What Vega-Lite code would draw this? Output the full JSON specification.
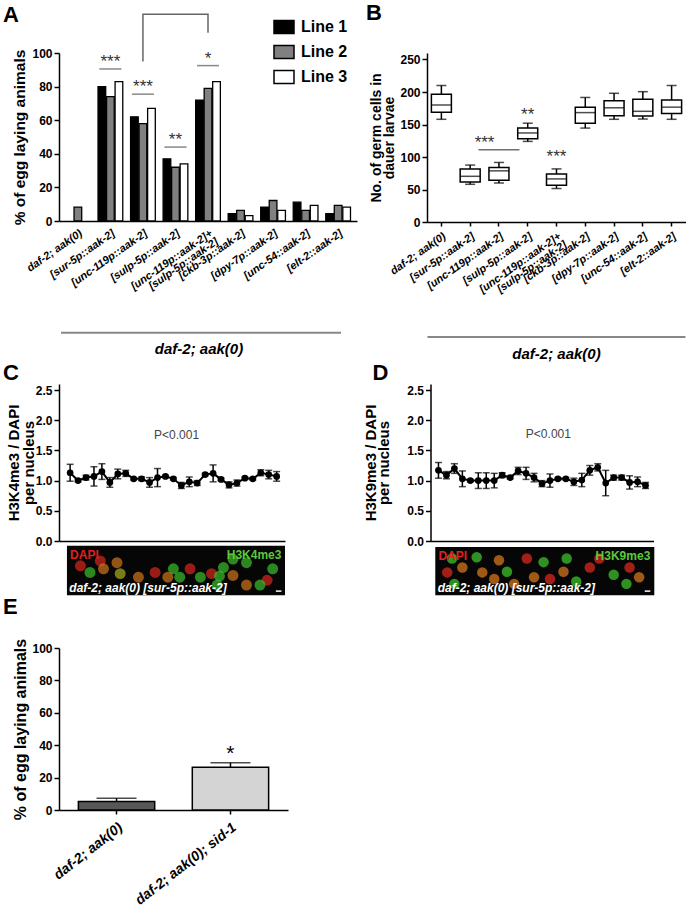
{
  "$schema": "https://vega.github.io/schema/vega-lite/v6.json",
  "background": "white",
  "padding": {"left": 3, "top": 2, "right": 0, "bottom": 0},
  "config": {
    "font": "Liberation Sans",
    "view": {"stroke": null},
    "axis": {"grid": false, "domainColor": "#000000", "domainWidth": 1.5, "tickColor": "#000000", "tickWidth": 1.5, "labelColor": "#000000", "titleColor": "#000000", "labelFontWeight": "bold", "titleFontWeight": "bold", "labelFont": "Liberation Sans", "titleFont": "Liberation Sans", "labelOverlap": false},
    "title": {"fontSize": 22, "fontWeight": "bold", "anchor": "start", "frame": "group", "color": "#000000", "font": "Liberation Sans"},
    "legend": {"labelFont": "Liberation Sans"}
  },
  "resolve": {"scale": {"fill": "independent", "color": "independent"}, "legend": {"fill": "independent", "color": "independent"}},
  "datasets": {
    "eggA": [
      {"strain": "daf-2; aak(0)", "line": "Line 2", "pct": 8.3},
      {"strain": "[sur-5p::aak-2]", "line": "Line 1", "pct": 80},
      {"strain": "[sur-5p::aak-2]", "line": "Line 2", "pct": 74},
      {"strain": "[sur-5p::aak-2]", "line": "Line 3", "pct": 83},
      {"strain": "[unc-119p::aak-2]", "line": "Line 1", "pct": 62},
      {"strain": "[unc-119p::aak-2]", "line": "Line 2", "pct": 58},
      {"strain": "[unc-119p::aak-2]", "line": "Line 3", "pct": 67},
      {"strain": "[sulp-5p::aak-2]", "line": "Line 1", "pct": 37},
      {"strain": "[sulp-5p::aak-2]", "line": "Line 2", "pct": 32},
      {"strain": "[sulp-5p::aak-2]", "line": "Line 3", "pct": 34},
      {"strain": "[unc-119p::aak-2]+ [sulp-5p::aak-2]", "line": "Line 1", "pct": 72},
      {"strain": "[unc-119p::aak-2]+ [sulp-5p::aak-2]", "line": "Line 2", "pct": 79},
      {"strain": "[unc-119p::aak-2]+ [sulp-5p::aak-2]", "line": "Line 3", "pct": 83},
      {"strain": "[ckb-3p::aak-2]", "line": "Line 1", "pct": 4.4},
      {"strain": "[ckb-3p::aak-2]", "line": "Line 2", "pct": 6.3},
      {"strain": "[ckb-3p::aak-2]", "line": "Line 3", "pct": 3.2},
      {"strain": "[dpy-7p::aak-2]", "line": "Line 1", "pct": 8.3},
      {"strain": "[dpy-7p::aak-2]", "line": "Line 2", "pct": 12.2},
      {"strain": "[dpy-7p::aak-2]", "line": "Line 3", "pct": 6.3},
      {"strain": "[unc-54::aak-2]", "line": "Line 1", "pct": 11.2},
      {"strain": "[unc-54::aak-2]", "line": "Line 2", "pct": 6.3},
      {"strain": "[unc-54::aak-2]", "line": "Line 3", "pct": 9.3},
      {"strain": "[elt-2::aak-2]", "line": "Line 1", "pct": 4.4},
      {"strain": "[elt-2::aak-2]", "line": "Line 2", "pct": 9.3},
      {"strain": "[elt-2::aak-2]", "line": "Line 3", "pct": 8.3}
    ],
    "sigA": [
      {"strain": "[sur-5p::aak-2]", "label": "***", "level": 90.5},
      {"strain": "[unc-119p::aak-2]", "label": "***", "level": 75.5},
      {"strain": "[sulp-5p::aak-2]", "label": "**", "level": 44},
      {"strain": "[unc-119p::aak-2]+ [sulp-5p::aak-2]", "label": "*", "level": 92.5}
    ],
    "bracketA": [
      {"strain": "[unc-119p::aak-2]", "level": 95, "o": 1},
      {"strain": "[unc-119p::aak-2]", "level": 123, "o": 2},
      {"strain": "[unc-119p::aak-2]+ [sulp-5p::aak-2]", "level": 123, "o": 3},
      {"strain": "[unc-119p::aak-2]+ [sulp-5p::aak-2]", "level": 112, "o": 4}
    ],
    "germB": [
      {"strain": "daf-2; aak(0)", "lo": 158, "q1": 169, "med": 180, "q3": 196.5, "hi": 210},
      {"strain": "[sur-5p::aak-2]", "lo": 58, "q1": 61.4, "med": 70.3, "q3": 81.7, "hi": 87.6},
      {"strain": "[unc-119p::aak-2]", "lo": 60, "q1": 64.4, "med": 78.7, "q3": 84, "hi": 91.6},
      {"strain": "[sulp-5p::aak-2]", "lo": 124, "q1": 128, "med": 137, "q3": 144.5, "hi": 152},
      {"strain": "[unc-119p::aak-2]+ [sulp-5p::aak-2]", "lo": 51.5, "q1": 56.4, "med": 66.3, "q3": 73.8, "hi": 81.7},
      {"strain": "[ckb-3p::aak-2]", "lo": 144.5, "q1": 152, "med": 168.3, "q3": 176.7, "hi": 191.6},
      {"strain": "[dpy-7p::aak-2]", "lo": 158, "q1": 163.4, "med": 175.7, "q3": 186.6, "hi": 198},
      {"strain": "[unc-54::aak-2]", "lo": 158.4, "q1": 163, "med": 170.3, "q3": 189, "hi": 200.5},
      {"strain": "[elt-2::aak-2]", "lo": 158, "q1": 166.8, "med": 176.7, "q3": 187.6, "hi": 210}
    ],
    "k4": [
      {"i": 1, "m": 1.13, "e": 0.14}, {"i": 2, "m": 1.0, "e": 0.02}, {"i": 3, "m": 1.05, "e": 0.04},
      {"i": 4, "m": 1.07, "e": 0.16}, {"i": 5, "m": 1.15, "e": 0.13}, {"i": 6, "m": 0.97, "e": 0.08},
      {"i": 7, "m": 1.11, "e": 0.08}, {"i": 8, "m": 1.12, "e": 0.05}, {"i": 9, "m": 1.03, "e": 0.02},
      {"i": 10, "m": 1.03, "e": 0.03}, {"i": 11, "m": 0.97, "e": 0.08}, {"i": 12, "m": 1.05, "e": 0.15},
      {"i": 13, "m": 1.07, "e": 0.02}, {"i": 14, "m": 1.03, "e": 0.02}, {"i": 15, "m": 0.92, "e": 0.05},
      {"i": 16, "m": 0.98, "e": 0.08}, {"i": 17, "m": 0.96, "e": 0.04}, {"i": 18, "m": 1.1, "e": 0.02},
      {"i": 19, "m": 1.12, "e": 0.14}, {"i": 20, "m": 1.02, "e": 0.02}, {"i": 21, "m": 0.93, "e": 0.05},
      {"i": 22, "m": 0.96, "e": 0.05}, {"i": 23, "m": 1.04, "e": 0.02}, {"i": 24, "m": 1.03, "e": 0.02},
      {"i": 25, "m": 1.13, "e": 0.05}, {"i": 26, "m": 1.1, "e": 0.07}, {"i": 27, "m": 1.07, "e": 0.08}
    ],
    "k9": [
      {"i": 1, "m": 1.17, "e": 0.13}, {"i": 2, "m": 1.09, "e": 0.06}, {"i": 3, "m": 1.2, "e": 0.08},
      {"i": 4, "m": 1.03, "e": 0.13}, {"i": 5, "m": 1.0, "e": 0.02}, {"i": 6, "m": 1.0, "e": 0.13},
      {"i": 7, "m": 1.0, "e": 0.13}, {"i": 8, "m": 1.0, "e": 0.12}, {"i": 9, "m": 1.09, "e": 0.04},
      {"i": 10, "m": 1.05, "e": 0.02}, {"i": 11, "m": 1.16, "e": 0.06}, {"i": 12, "m": 1.12, "e": 0.1},
      {"i": 13, "m": 1.05, "e": 0.07}, {"i": 14, "m": 0.95, "e": 0.05}, {"i": 15, "m": 1.0, "e": 0.11},
      {"i": 16, "m": 1.03, "e": 0.02}, {"i": 17, "m": 1.03, "e": 0.02}, {"i": 18, "m": 0.98, "e": 0.06},
      {"i": 19, "m": 1.01, "e": 0.11}, {"i": 20, "m": 1.17, "e": 0.08}, {"i": 21, "m": 1.22, "e": 0.06},
      {"i": 22, "m": 0.96, "e": 0.21}, {"i": 23, "m": 1.05, "e": 0.04}, {"i": 24, "m": 1.05, "e": 0.04},
      {"i": 25, "m": 0.97, "e": 0.11}, {"i": 26, "m": 0.98, "e": 0.08}, {"i": 27, "m": 0.92, "e": 0.05}
    ],
    "blobC": [
      {"x": 4.8, "y": -0.33, "c": "r"}, {"x": 5.2, "y": -0.46, "c": "o"}, {"x": 6.9, "y": -0.36, "c": "o"},
      {"x": 7.3, "y": -0.54, "c": "y"}, {"x": 3.5, "y": -0.52, "c": "g"}, {"x": 2.3, "y": -0.41, "c": "r"},
      {"x": 9.6, "y": -0.6, "c": "o"}, {"x": 11.7, "y": -0.52, "c": "r"}, {"x": 14, "y": -0.46, "c": "g"},
      {"x": 13.3, "y": -0.6, "c": "o"}, {"x": 14.8, "y": -0.6, "c": "g"}, {"x": 16.1, "y": -0.46, "c": "r"},
      {"x": 17.4, "y": -0.6, "c": "g"}, {"x": 20.3, "y": -0.44, "c": "g"}, {"x": 23.2, "y": -0.36, "c": "g"},
      {"x": 21.5, "y": -0.57, "c": "o"}, {"x": 25.8, "y": -0.65, "c": "r"}, {"x": 24.9, "y": -0.73, "c": "g"},
      {"x": 19.5, "y": -0.73, "c": "g"}, {"x": 23.2, "y": -0.73, "c": "o"}, {"x": 18.8, "y": -0.54, "c": "r"},
      {"x": 26.5, "y": -0.46, "c": "g"}, {"x": 21.5, "y": -0.3, "c": "g"}, {"x": 19.8, "y": -0.58, "c": "g"}
    ],
    "blobD": [
      {"x": 2.7, "y": -0.29, "c": "g"}, {"x": 4.0, "y": -0.44, "c": "o"}, {"x": 2.1, "y": -0.52, "c": "r"},
      {"x": 5.8, "y": -0.27, "c": "g"}, {"x": 6.5, "y": -0.52, "c": "o"}, {"x": 8.6, "y": -0.32, "c": "o"},
      {"x": 9.6, "y": -0.51, "c": "g"}, {"x": 8.0, "y": -0.63, "c": "o"}, {"x": 12.1, "y": -0.29, "c": "r"},
      {"x": 14.2, "y": -0.35, "c": "g"}, {"x": 13.0, "y": -0.6, "c": "o"}, {"x": 15.0, "y": -0.63, "c": "r"},
      {"x": 17.1, "y": -0.29, "c": "g"}, {"x": 16.7, "y": -0.51, "c": "o"}, {"x": 18.3, "y": -0.67, "c": "g"},
      {"x": 20.0, "y": -0.44, "c": "r"}, {"x": 21.2, "y": -0.29, "c": "r"}, {"x": 23.0, "y": -0.56, "c": "g"},
      {"x": 25.0, "y": -0.44, "c": "r"}, {"x": 26.2, "y": -0.6, "c": "o"}, {"x": 24.6, "y": -0.71, "c": "g"},
      {"x": 3.0, "y": -0.71, "c": "g"}, {"x": 10.5, "y": -0.71, "c": "o"}
    ],
    "eggE": [
      {"strain": "daf-2; aak(0)", "v": 5.2, "hi": 7.2},
      {"strain": "daf-2; aak(0); sid-1", "v": 26.4, "hi": 29.2}
    ]
  },
  "spacing": 0,
  "vconcat": [
    {
      "spacing": 9,
      "hconcat": [
        {
          "title": {"text": "A", "offset": -16, "dx": -56},
          "width": 298,
          "height": 168,
          "layer": [
            {
              "data": {"name": "eggA"},
              "mark": {"type": "bar", "stroke": "#000000", "strokeWidth": 1.3},
              "encoding": {
                "x": {"field": "strain", "type": "nominal",
                  "scale": {"domain": ["daf-2; aak(0)", "[sur-5p::aak-2]", "[unc-119p::aak-2]", "[sulp-5p::aak-2]", "[unc-119p::aak-2]+ [sulp-5p::aak-2]", "[ckb-3p::aak-2]", "[dpy-7p::aak-2]", "[unc-54::aak-2]", "[elt-2::aak-2]"], "paddingInner": 0.24, "paddingOuter": 0.2},
                  "axis": {"title": null, "ticks": false, "labelAngle": -35, "labelAlign": "right", "labelBaseline": "top", "labelFontSize": 11, "labelFontStyle": "italic", "labelFontWeight": "bold", "labelPadding": 6, "labelLimit": 260, "labelLineHeight": 10, "labelExpr": "datum.label == '[unc-119p::aak-2]+ [sulp-5p::aak-2]' ? ['[unc-119p::aak-2]+', '[sulp-5p::aak-2]\u00a0\u00a0\u00a0\u00a0\u00a0\u00a0\u00a0\u00a0'] : datum.label"}},
                "xOffset": {"field": "line", "type": "nominal", "scale": {"domain": ["Line 1", "Line 2", "Line 3"], "paddingInner": 0.1}},
                "y": {"field": "pct", "type": "quantitative", "scale": {"domain": [0, 100]},
                  "axis": {"title": "% of egg laying animals", "values": [0, 20, 40, 60, 80, 100], "labelFontSize": 12, "titleFontSize": 15.5, "tickSize": 5, "titlePadding": 4}},
                "fill": {"field": "line", "type": "nominal",
                  "scale": {"domain": ["Line 1", "Line 2", "Line 3"], "range": ["#000000", "#808080", "#ffffff"]},
                  "legend": {"orient": "none", "legendX": 214, "legendY": -37, "title": null, "symbolType": "M-1,-0.65H1V0.65H-1Z", "symbolSize": 400, "symbolStrokeColor": "#000000", "symbolStrokeWidth": 1.5, "symbolOpacity": 1, "labelFontSize": 16, "labelFontWeight": "bold", "labelColor": "#000000", "rowPadding": 4, "labelOffset": 6, "padding": 0}}
              }
            },
            {
              "data": {"name": "sigA"},
              "mark": {"type": "tick", "orient": "horizontal", "size": 22, "thickness": 1.5, "color": "#555555"},
              "encoding": {
                "x": {"field": "strain", "type": "nominal", "axis": {"title": null, "ticks": false, "labelAngle": -35, "labelAlign": "right", "labelBaseline": "top", "labelFontSize": 11, "labelFontStyle": "italic", "labelFontWeight": "bold", "labelPadding": 6, "labelLimit": 260, "labelLineHeight": 10, "labelExpr": "datum.label == '[unc-119p::aak-2]+ [sulp-5p::aak-2]' ? ['[unc-119p::aak-2]+', '[sulp-5p::aak-2]\u00a0\u00a0\u00a0\u00a0\u00a0\u00a0\u00a0\u00a0'] : datum.label"}},
                "y": {"field": "level", "type": "quantitative", "axis": {"title": "% of egg laying animals", "values": [0, 20, 40, 60, 80, 100], "labelFontSize": 12, "titleFontSize": 15.5, "tickSize": 5, "titlePadding": 4}}
              }
            },
            {
              "data": {"name": "sigA"},
              "mark": {"type": "text", "fontSize": 17, "dy": -2, "baseline": "alphabetic", "color": "#333333"},
              "encoding": {
                "x": {"field": "strain", "type": "nominal", "axis": {"title": null, "ticks": false, "labelAngle": -35, "labelAlign": "right", "labelBaseline": "top", "labelFontSize": 11, "labelFontStyle": "italic", "labelFontWeight": "bold", "labelPadding": 6, "labelLimit": 260, "labelLineHeight": 10, "labelExpr": "datum.label == '[unc-119p::aak-2]+ [sulp-5p::aak-2]' ? ['[unc-119p::aak-2]+', '[sulp-5p::aak-2]\u00a0\u00a0\u00a0\u00a0\u00a0\u00a0\u00a0\u00a0'] : datum.label"}},
                "y": {"field": "level", "type": "quantitative", "axis": {"title": "% of egg laying animals", "values": [0, 20, 40, 60, 80, 100], "labelFontSize": 12, "titleFontSize": 15.5, "tickSize": 5, "titlePadding": 4}},
                "text": {"field": "label"}
              }
            },
            {
              "data": {"name": "bracketA"},
              "mark": {"type": "line", "color": "#666666", "strokeWidth": 1.5},
              "encoding": {
                "x": {"field": "strain", "type": "nominal", "axis": {"title": null, "ticks": false, "labelAngle": -35, "labelAlign": "right", "labelBaseline": "top", "labelFontSize": 11, "labelFontStyle": "italic", "labelFontWeight": "bold", "labelPadding": 6, "labelLimit": 260, "labelLineHeight": 10, "labelExpr": "datum.label == '[unc-119p::aak-2]+ [sulp-5p::aak-2]' ? ['[unc-119p::aak-2]+', '[sulp-5p::aak-2]\u00a0\u00a0\u00a0\u00a0\u00a0\u00a0\u00a0\u00a0'] : datum.label"}},
                "y": {"field": "level", "type": "quantitative", "axis": {"title": "% of egg laying animals", "values": [0, 20, 40, 60, 80, 100], "labelFontSize": 12, "titleFontSize": 15.5, "tickSize": 5, "titlePadding": 4}},
                "order": {"field": "o", "type": "quantitative"}
              }
            },
            {
              "data": {"values": [{}]},
              "mark": {"type": "tick", "orient": "horizontal", "size": 280, "thickness": 2, "color": "#555555", "xOffset": -7},
              "encoding": {
                "x": {"datum": "[unc-119p::aak-2]+ [sulp-5p::aak-2]", "axis": {"title": null, "ticks": false, "labelAngle": -35, "labelAlign": "right", "labelBaseline": "top", "labelFontSize": 11, "labelFontStyle": "italic", "labelFontWeight": "bold", "labelPadding": 6, "labelLimit": 260, "labelLineHeight": 10, "labelExpr": "datum.label == '[unc-119p::aak-2]+ [sulp-5p::aak-2]' ? ['[unc-119p::aak-2]+', '[sulp-5p::aak-2]\u00a0\u00a0\u00a0\u00a0\u00a0\u00a0\u00a0\u00a0'] : datum.label"}},
                "y": {"datum": -66.5, "axis": {"title": "% of egg laying animals", "values": [0, 20, 40, 60, 80, 100], "labelFontSize": 12, "titleFontSize": 15.5, "tickSize": 5, "titlePadding": 4}}
              }
            },
            {
              "data": {"values": [{}]},
              "mark": {"type": "text", "fontSize": 15, "fontStyle": "italic", "fontWeight": "bold", "baseline": "middle", "color": "#000000", "xOffset": -9},
              "encoding": {
                "x": {"datum": "[unc-119p::aak-2]+ [sulp-5p::aak-2]", "axis": {"title": null, "ticks": false, "labelAngle": -35, "labelAlign": "right", "labelBaseline": "top", "labelFontSize": 11, "labelFontStyle": "italic", "labelFontWeight": "bold", "labelPadding": 6, "labelLimit": 260, "labelLineHeight": 10, "labelExpr": "datum.label == '[unc-119p::aak-2]+ [sulp-5p::aak-2]' ? ['[unc-119p::aak-2]+', '[sulp-5p::aak-2]\u00a0\u00a0\u00a0\u00a0\u00a0\u00a0\u00a0\u00a0'] : datum.label"}},
                "y": {"datum": -76.2, "axis": {"title": "% of egg laying animals", "values": [0, 20, 40, 60, 80, 100], "labelFontSize": 12, "titleFontSize": 15.5, "tickSize": 5, "titlePadding": 4}},
                "text": {"value": "daf-2; aak(0)"}
              }
            }
          ]
        },
        {
          "title": {"text": "B", "offset": 28, "dx": -61},
          "width": 259,
          "height": 169,
          "encoding": {
            "x": {"field": "strain", "type": "nominal",
              "scale": {"domain": ["daf-2; aak(0)", "[sur-5p::aak-2]", "[unc-119p::aak-2]", "[sulp-5p::aak-2]", "[unc-119p::aak-2]+ [sulp-5p::aak-2]", "[ckb-3p::aak-2]", "[dpy-7p::aak-2]", "[unc-54::aak-2]", "[elt-2::aak-2]"], "paddingInner": 0, "paddingOuter": 0},
              "axis": {"title": null, "ticks": true, "tickSize": 4, "labelAngle": -35, "labelAlign": "right", "labelBaseline": "top", "labelFontSize": 11, "labelFontStyle": "italic", "labelFontWeight": "bold", "labelPadding": 4, "labelLimit": 260, "labelLineHeight": 10, "labelExpr": "datum.label == '[unc-119p::aak-2]+ [sulp-5p::aak-2]' ? ['[unc-119p::aak-2]+', '[sulp-5p::aak-2]\u00a0\u00a0\u00a0\u00a0\u00a0\u00a0'] : datum.label"}}
          },
          "layer": [
            {
              "data": {"name": "germB"},
              "mark": {"type": "rule", "color": "#000000", "strokeWidth": 1.5},
              "encoding": {
                "y": {"field": "lo", "type": "quantitative", "scale": {"domain": [0, 250]},
                  "axis": {"title": ["No. of germ cells in", "dauer larvae"], "values": [0, 50, 100, 150, 200, 250], "labelFontSize": 12, "titleFontSize": 14, "titleLineHeight": 13, "tickSize": 5, "titlePadding": 3}},
                "y2": {"field": "hi"}
              }
            },
            {
              "data": {"name": "germB"},
              "mark": {"type": "bar", "size": 20, "fill": "#ffffff", "stroke": "#000000", "strokeWidth": 1.5},
              "encoding": {
                "y": {"field": "q1", "type": "quantitative", "axis": {"title": ["No. of germ cells in", "dauer larvae"], "values": [0, 50, 100, 150, 200, 250], "labelFontSize": 12, "titleFontSize": 14, "titleLineHeight": 13, "tickSize": 5, "titlePadding": 3}},
                "y2": {"field": "q3"}
              }
            },
            {
              "data": {"name": "germB"},
              "mark": {"type": "tick", "orient": "horizontal", "size": 20, "thickness": 1.5, "color": "#000000"},
              "encoding": {
                "y": {"field": "med", "type": "quantitative", "axis": {"title": ["No. of germ cells in", "dauer larvae"], "values": [0, 50, 100, 150, 200, 250], "labelFontSize": 12, "titleFontSize": 14, "titleLineHeight": 13, "tickSize": 5, "titlePadding": 3}}
              }
            },
            {
              "data": {"name": "germB"},
              "mark": {"type": "tick", "orient": "horizontal", "size": 10, "thickness": 1.5, "color": "#000000"},
              "encoding": {
                "y": {"field": "lo", "type": "quantitative", "axis": {"title": ["No. of germ cells in", "dauer larvae"], "values": [0, 50, 100, 150, 200, 250], "labelFontSize": 12, "titleFontSize": 14, "titleLineHeight": 13, "tickSize": 5, "titlePadding": 3}}
              }
            },
            {
              "data": {"name": "germB"},
              "mark": {"type": "tick", "orient": "horizontal", "size": 10, "thickness": 1.5, "color": "#000000"},
              "encoding": {
                "y": {"field": "hi", "type": "quantitative", "axis": {"title": ["No. of germ cells in", "dauer larvae"], "values": [0, 50, 100, 150, 200, 250], "labelFontSize": 12, "titleFontSize": 14, "titleLineHeight": 13, "tickSize": 5, "titlePadding": 3}}
              }
            },
            {
              "data": {"values": [{}]},
              "mark": {"type": "tick", "orient": "horizontal", "size": 41, "thickness": 1.5, "color": "#333333"},
              "encoding": {
                "x": {"datum": "[unc-119p::aak-2]", "bandPosition": 0, "axis": {"title": null, "ticks": true, "tickSize": 4, "labelAngle": -35, "labelAlign": "right", "labelBaseline": "top", "labelFontSize": 11, "labelFontStyle": "italic", "labelFontWeight": "bold", "labelPadding": 4, "labelLimit": 260, "labelLineHeight": 10, "labelExpr": "datum.label == '[unc-119p::aak-2]+ [sulp-5p::aak-2]' ? ['[unc-119p::aak-2]+', '[sulp-5p::aak-2]\u00a0\u00a0\u00a0\u00a0\u00a0\u00a0'] : datum.label"}},
                "y": {"datum": 111, "axis": {"title": ["No. of germ cells in", "dauer larvae"], "values": [0, 50, 100, 150, 200, 250], "labelFontSize": 12, "titleFontSize": 14, "titleLineHeight": 13, "tickSize": 5, "titlePadding": 3}}
              }
            },
            {
              "data": {"values": [{}]},
              "mark": {"type": "text", "fontSize": 17, "dy": -2, "baseline": "alphabetic", "color": "#333333"},
              "encoding": {
                "x": {"datum": "[unc-119p::aak-2]", "bandPosition": 0, "axis": {"title": null, "ticks": true, "tickSize": 4, "labelAngle": -35, "labelAlign": "right", "labelBaseline": "top", "labelFontSize": 11, "labelFontStyle": "italic", "labelFontWeight": "bold", "labelPadding": 4, "labelLimit": 260, "labelLineHeight": 10, "labelExpr": "datum.label == '[unc-119p::aak-2]+ [sulp-5p::aak-2]' ? ['[unc-119p::aak-2]+', '[sulp-5p::aak-2]\u00a0\u00a0\u00a0\u00a0\u00a0\u00a0'] : datum.label"}},
                "y": {"datum": 111, "axis": {"title": ["No. of germ cells in", "dauer larvae"], "values": [0, 50, 100, 150, 200, 250], "labelFontSize": 12, "titleFontSize": 14, "titleLineHeight": 13, "tickSize": 5, "titlePadding": 3}},
                "text": {"value": "***"}
              }
            },
            {
              "data": {"values": [{}]},
              "mark": {"type": "text", "fontSize": 17, "baseline": "alphabetic", "color": "#333333"},
              "encoding": {
                "x": {"datum": "[sulp-5p::aak-2]", "axis": {"title": null, "ticks": true, "tickSize": 4, "labelAngle": -35, "labelAlign": "right", "labelBaseline": "top", "labelFontSize": 11, "labelFontStyle": "italic", "labelFontWeight": "bold", "labelPadding": 4, "labelLimit": 260, "labelLineHeight": 10, "labelExpr": "datum.label == '[unc-119p::aak-2]+ [sulp-5p::aak-2]' ? ['[unc-119p::aak-2]+', '[sulp-5p::aak-2]\u00a0\u00a0\u00a0\u00a0\u00a0\u00a0'] : datum.label"}},
                "y": {"datum": 157, "axis": {"title": ["No. of germ cells in", "dauer larvae"], "values": [0, 50, 100, 150, 200, 250], "labelFontSize": 12, "titleFontSize": 14, "titleLineHeight": 13, "tickSize": 5, "titlePadding": 3}},
                "text": {"value": "**"}
              }
            },
            {
              "data": {"values": [{}]},
              "mark": {"type": "text", "fontSize": 17, "baseline": "alphabetic", "color": "#333333"},
              "encoding": {
                "x": {"datum": "[unc-119p::aak-2]+ [sulp-5p::aak-2]", "axis": {"title": null, "ticks": true, "tickSize": 4, "labelAngle": -35, "labelAlign": "right", "labelBaseline": "top", "labelFontSize": 11, "labelFontStyle": "italic", "labelFontWeight": "bold", "labelPadding": 4, "labelLimit": 260, "labelLineHeight": 10, "labelExpr": "datum.label == '[unc-119p::aak-2]+ [sulp-5p::aak-2]' ? ['[unc-119p::aak-2]+', '[sulp-5p::aak-2]\u00a0\u00a0\u00a0\u00a0\u00a0\u00a0'] : datum.label"}},
                "y": {"datum": 93, "axis": {"title": ["No. of germ cells in", "dauer larvae"], "values": [0, 50, 100, 150, 200, 250], "labelFontSize": 12, "titleFontSize": 14, "titleLineHeight": 13, "tickSize": 5, "titlePadding": 3}},
                "text": {"value": "***"}
              }
            },
            {
              "data": {"values": [{}]},
              "mark": {"type": "tick", "orient": "horizontal", "size": 258, "thickness": 2, "color": "#555555"},
              "encoding": {
                "x": {"datum": "[unc-119p::aak-2]+ [sulp-5p::aak-2]", "axis": {"title": null, "ticks": true, "tickSize": 4, "labelAngle": -35, "labelAlign": "right", "labelBaseline": "top", "labelFontSize": 11, "labelFontStyle": "italic", "labelFontWeight": "bold", "labelPadding": 4, "labelLimit": 260, "labelLineHeight": 10, "labelExpr": "datum.label == '[unc-119p::aak-2]+ [sulp-5p::aak-2]' ? ['[unc-119p::aak-2]+', '[sulp-5p::aak-2]\u00a0\u00a0\u00a0\u00a0\u00a0\u00a0'] : datum.label"}},
                "y": {"datum": -177, "axis": {"title": ["No. of germ cells in", "dauer larvae"], "values": [0, 50, 100, 150, 200, 250], "labelFontSize": 12, "titleFontSize": 14, "titleLineHeight": 13, "tickSize": 5, "titlePadding": 3}}
              }
            },
            {
              "data": {"values": [{}]},
              "mark": {"type": "text", "fontSize": 15, "fontStyle": "italic", "fontWeight": "bold", "baseline": "middle", "color": "#000000"},
              "encoding": {
                "x": {"datum": "[unc-119p::aak-2]+ [sulp-5p::aak-2]", "axis": {"title": null, "ticks": true, "tickSize": 4, "labelAngle": -35, "labelAlign": "right", "labelBaseline": "top", "labelFontSize": 11, "labelFontStyle": "italic", "labelFontWeight": "bold", "labelPadding": 4, "labelLimit": 260, "labelLineHeight": 10, "labelExpr": "datum.label == '[unc-119p::aak-2]+ [sulp-5p::aak-2]' ? ['[unc-119p::aak-2]+', '[sulp-5p::aak-2]\u00a0\u00a0\u00a0\u00a0\u00a0\u00a0'] : datum.label"}},
                "y": {"datum": -203, "axis": {"title": ["No. of germ cells in", "dauer larvae"], "values": [0, 50, 100, 150, 200, 250], "labelFontSize": 12, "titleFontSize": 14, "titleLineHeight": 13, "tickSize": 5, "titlePadding": 3}},
                "text": {"value": "daf-2; aak(0)"}
              }
            }
          ]
        }
      ]
    },
    {
      "spacing": 78.5,
      "hconcat": [
        {
          "title": {"text": "C", "offset": -1, "dx": -56},
          "width": 226,
          "height": 157,
          "layer": [
            {
              "data": {"name": "k4"},
              "mark": {"type": "line", "color": "#000000", "strokeWidth": 2},
              "encoding": {
                "x": {"field": "i", "type": "quantitative", "scale": {"domain": [-0.4, 28.05], "nice": false, "zero": false}, "axis": {"title": null, "ticks": false, "labels": false}},
                "y": {"field": "m", "type": "quantitative", "scale": {"domain": [0, 2.5]}, "axis": {"title": ["H3K4me3 / DAPI", "per nucleus"], "values": [0, 0.5, 1, 1.5, 2, 2.5], "format": ".1f", "labelFontSize": 12, "titleFontSize": 15, "titleLineHeight": 15, "tickSize": 5, "titlePadding": -1}}
              }
            },
            {
              "data": {"name": "k4"},
              "mark": {"type": "errorbar", "ticks": {"size": 7}, "thickness": 1.5, "color": "#000000"},
              "encoding": {
                "x": {"field": "i", "type": "quantitative", "axis": {"title": null, "ticks": false, "labels": false}},
                "y": {"field": "m", "type": "quantitative", "axis": {"title": ["H3K4me3 / DAPI", "per nucleus"], "values": [0, 0.5, 1, 1.5, 2, 2.5], "format": ".1f", "labelFontSize": 12, "titleFontSize": 15, "titleLineHeight": 15, "tickSize": 5, "titlePadding": -1}},
                "yError": {"field": "e"}
              }
            },
            {
              "data": {"name": "k4"},
              "mark": {"type": "circle", "size": 45, "color": "#000000", "opacity": 1},
              "encoding": {
                "x": {"field": "i", "type": "quantitative", "axis": {"title": null, "ticks": false, "labels": false}},
                "y": {"field": "m", "type": "quantitative", "axis": {"title": ["H3K4me3 / DAPI", "per nucleus"], "values": [0, 0.5, 1, 1.5, 2, 2.5], "format": ".1f", "labelFontSize": 12, "titleFontSize": 15, "titleLineHeight": 15, "tickSize": 5, "titlePadding": -1}}
              }
            },
            {
              "data": {"values": [{}]},
              "mark": {"type": "text", "fontSize": 12, "color": "#444444", "baseline": "middle"},
              "encoding": {
                "x": {"datum": 14.4, "axis": {"title": null, "ticks": false, "labels": false}},
                "y": {"datum": 1.76, "axis": {"title": ["H3K4me3 / DAPI", "per nucleus"], "values": [0, 0.5, 1, 1.5, 2, 2.5], "format": ".1f", "labelFontSize": 12, "titleFontSize": 15, "titleLineHeight": 15, "tickSize": 5, "titlePadding": -1}},
                "text": {"value": "P<0.001"}}
            },
            {
              "data": {"values": [{}]},
              "mark": {"type": "rect", "color": "#060606"},
              "encoding": {
                "x": {"datum": 0.6, "axis": {"title": null, "ticks": false, "labels": false}}, "x2": {"datum": 28.05},
                "y": {"datum": -0.08, "axis": {"title": ["H3K4me3 / DAPI", "per nucleus"], "values": [0, 0.5, 1, 1.5, 2, 2.5], "format": ".1f", "labelFontSize": 12, "titleFontSize": 15, "titleLineHeight": 15, "tickSize": 5, "titlePadding": -1}}, "y2": {"datum": -0.9}}
            },
            {
              "data": {"name": "blobC"},
              "mark": {"type": "circle", "size": 120, "opacity": 0.7},
              "encoding": {
                "x": {"field": "x", "type": "quantitative", "axis": {"title": null, "ticks": false, "labels": false}},
                "y": {"field": "y", "type": "quantitative", "axis": {"title": ["H3K4me3 / DAPI", "per nucleus"], "values": [0, 0.5, 1, 1.5, 2, 2.5], "format": ".1f", "labelFontSize": 12, "titleFontSize": 15, "titleLineHeight": 15, "tickSize": 5, "titlePadding": -1}},
                "color": {"field": "c", "type": "nominal", "scale": {"domain": ["r", "g", "o", "y"], "range": ["#d8281c", "#3cc02c", "#d2761c", "#a8b020"]}, "legend": null}
              }
            },
            {
              "data": {"values": [{}]},
              "mark": {"type": "text", "fontSize": 12, "fontWeight": "bold", "color": "#e0201c", "align": "left", "baseline": "alphabetic"},
              "encoding": {
                "x": {"datum": 1.0, "axis": {"title": null, "ticks": false, "labels": false}},
                "y": {"datum": -0.3, "axis": {"title": ["H3K4me3 / DAPI", "per nucleus"], "values": [0, 0.5, 1, 1.5, 2, 2.5], "format": ".1f", "labelFontSize": 12, "titleFontSize": 15, "titleLineHeight": 15, "tickSize": 5, "titlePadding": -1}},
                "text": {"value": "DAPI"}}
            },
            {
              "data": {"values": [{}]},
              "mark": {"type": "text", "fontSize": 12, "fontWeight": "bold", "color": "#5cc83c", "align": "right", "baseline": "alphabetic"},
              "encoding": {
                "x": {"datum": 27.6, "axis": {"title": null, "ticks": false, "labels": false}},
                "y": {"datum": -0.3, "axis": {"title": ["H3K4me3 / DAPI", "per nucleus"], "values": [0, 0.5, 1, 1.5, 2, 2.5], "format": ".1f", "labelFontSize": 12, "titleFontSize": 15, "titleLineHeight": 15, "tickSize": 5, "titlePadding": -1}},
                "text": {"value": "H3K4me3"}}
            },
            {
              "data": {"values": [{}]},
              "mark": {"type": "text", "fontSize": 12, "fontWeight": "bold", "fontStyle": "italic", "color": "#ffffff", "align": "left", "baseline": "alphabetic"},
              "encoding": {
                "x": {"datum": 0.9, "axis": {"title": null, "ticks": false, "labels": false}},
                "y": {"datum": -0.84, "axis": {"title": ["H3K4me3 / DAPI", "per nucleus"], "values": [0, 0.5, 1, 1.5, 2, 2.5], "format": ".1f", "labelFontSize": 12, "titleFontSize": 15, "titleLineHeight": 15, "tickSize": 5, "titlePadding": -1}},
                "text": {"value": "daf-2; aak(0) [sur-5p::aak-2]"}}
            },
            {
              "data": {"values": [{}]},
              "mark": {"type": "rule", "color": "#ffffff", "strokeWidth": 1.5},
              "encoding": {
                "x": {"datum": 26.9, "axis": {"title": null, "ticks": false, "labels": false}}, "x2": {"datum": 27.6},
                "y": {"datum": -0.83, "axis": {"title": ["H3K4me3 / DAPI", "per nucleus"], "values": [0, 0.5, 1, 1.5, 2, 2.5], "format": ".1f", "labelFontSize": 12, "titleFontSize": 15, "titleLineHeight": 15, "tickSize": 5, "titlePadding": -1}}}
            }
          ]
        },
        {
          "title": {"text": "D", "offset": -1, "dx": -58},
          "width": 223,
          "height": 157,
          "layer": [
            {
              "data": {"name": "k9"},
              "mark": {"type": "line", "color": "#000000", "strokeWidth": 2},
              "encoding": {
                "x": {"field": "i", "type": "quantitative", "scale": {"domain": [0, 28]}, "axis": {"title": null, "ticks": false, "labels": false}},
                "y": {"field": "m", "type": "quantitative", "scale": {"domain": [0, 2.5]}, "axis": {"title": ["H3K9me3 / DAPI", "per nucleus"], "values": [0, 0.5, 1, 1.5, 2, 2.5], "format": ".1f", "labelFontSize": 12, "titleFontSize": 15, "titleLineHeight": 13, "tickSize": 5, "titlePadding": 15}}
              }
            },
            {
              "data": {"name": "k9"},
              "mark": {"type": "errorbar", "ticks": {"size": 7}, "thickness": 1.5, "color": "#000000"},
              "encoding": {
                "x": {"field": "i", "type": "quantitative", "axis": {"title": null, "ticks": false, "labels": false}},
                "y": {"field": "m", "type": "quantitative", "axis": {"title": ["H3K9me3 / DAPI", "per nucleus"], "values": [0, 0.5, 1, 1.5, 2, 2.5], "format": ".1f", "labelFontSize": 12, "titleFontSize": 15, "titleLineHeight": 13, "tickSize": 5, "titlePadding": 15}},
                "yError": {"field": "e"}
              }
            },
            {
              "data": {"name": "k9"},
              "mark": {"type": "circle", "size": 45, "color": "#000000", "opacity": 1},
              "encoding": {
                "x": {"field": "i", "type": "quantitative", "axis": {"title": null, "ticks": false, "labels": false}},
                "y": {"field": "m", "type": "quantitative", "axis": {"title": ["H3K9me3 / DAPI", "per nucleus"], "values": [0, 0.5, 1, 1.5, 2, 2.5], "format": ".1f", "labelFontSize": 12, "titleFontSize": 15, "titleLineHeight": 13, "tickSize": 5, "titlePadding": 15}}
              }
            },
            {
              "data": {"values": [{}]},
              "mark": {"type": "text", "fontSize": 12, "color": "#444444", "baseline": "middle"},
              "encoding": {
                "x": {"datum": 14.8, "axis": {"title": null, "ticks": false, "labels": false}},
                "y": {"datum": 1.77, "axis": {"title": ["H3K9me3 / DAPI", "per nucleus"], "values": [0, 0.5, 1, 1.5, 2, 2.5], "format": ".1f", "labelFontSize": 12, "titleFontSize": 15, "titleLineHeight": 13, "tickSize": 5, "titlePadding": 15}},
                "text": {"value": "P<0.001"}}
            },
            {
              "data": {"values": [{}]},
              "mark": {"type": "rect", "color": "#060606"},
              "encoding": {
                "x": {"datum": 0.6, "axis": {"title": null, "ticks": false, "labels": false}}, "x2": {"datum": 28.1},
                "y": {"datum": -0.1, "axis": {"title": ["H3K9me3 / DAPI", "per nucleus"], "values": [0, 0.5, 1, 1.5, 2, 2.5], "format": ".1f", "labelFontSize": 12, "titleFontSize": 15, "titleLineHeight": 13, "tickSize": 5, "titlePadding": 15}}, "y2": {"datum": -0.9}}
            },
            {
              "data": {"name": "blobD"},
              "mark": {"type": "circle", "size": 110, "opacity": 0.75},
              "encoding": {
                "x": {"field": "x", "type": "quantitative", "axis": {"title": null, "ticks": false, "labels": false}},
                "y": {"field": "y", "type": "quantitative", "axis": {"title": ["H3K9me3 / DAPI", "per nucleus"], "values": [0, 0.5, 1, 1.5, 2, 2.5], "format": ".1f", "labelFontSize": 12, "titleFontSize": 15, "titleLineHeight": 13, "tickSize": 5, "titlePadding": 15}},
                "color": {"field": "c", "type": "nominal", "scale": {"domain": ["r", "g", "o", "y"], "range": ["#d8281c", "#3cc02c", "#d2761c", "#a8b020"]}, "legend": null}
              }
            },
            {
              "data": {"values": [{}]},
              "mark": {"type": "text", "fontSize": 12, "fontWeight": "bold", "color": "#e0201c", "align": "left", "baseline": "alphabetic"},
              "encoding": {
                "x": {"datum": 1.0, "axis": {"title": null, "ticks": false, "labels": false}},
                "y": {"datum": -0.32, "axis": {"title": ["H3K9me3 / DAPI", "per nucleus"], "values": [0, 0.5, 1, 1.5, 2, 2.5], "format": ".1f", "labelFontSize": 12, "titleFontSize": 15, "titleLineHeight": 13, "tickSize": 5, "titlePadding": 15}},
                "text": {"value": "DAPI"}}
            },
            {
              "data": {"values": [{}]},
              "mark": {"type": "text", "fontSize": 12, "fontWeight": "bold", "color": "#5cc83c", "align": "right", "baseline": "alphabetic"},
              "encoding": {
                "x": {"datum": 27.6, "axis": {"title": null, "ticks": false, "labels": false}},
                "y": {"datum": -0.32, "axis": {"title": ["H3K9me3 / DAPI", "per nucleus"], "values": [0, 0.5, 1, 1.5, 2, 2.5], "format": ".1f", "labelFontSize": 12, "titleFontSize": 15, "titleLineHeight": 13, "tickSize": 5, "titlePadding": 15}},
                "text": {"value": "H3K9me3"}}
            },
            {
              "data": {"values": [{}]},
              "mark": {"type": "text", "fontSize": 12, "fontWeight": "bold", "fontStyle": "italic", "color": "#ffffff", "align": "left", "baseline": "alphabetic"},
              "encoding": {
                "x": {"datum": 0.9, "axis": {"title": null, "ticks": false, "labels": false}},
                "y": {"datum": -0.84, "axis": {"title": ["H3K9me3 / DAPI", "per nucleus"], "values": [0, 0.5, 1, 1.5, 2, 2.5], "format": ".1f", "labelFontSize": 12, "titleFontSize": 15, "titleLineHeight": 13, "tickSize": 5, "titlePadding": 15}},
                "text": {"value": "daf-2; aak(0) [sur-5p::aak-2]"}}
            },
            {
              "data": {"values": [{}]},
              "mark": {"type": "rule", "color": "#ffffff", "strokeWidth": 1.5},
              "encoding": {
                "x": {"datum": 26.9, "axis": {"title": null, "ticks": false, "labels": false}}, "x2": {"datum": 27.6},
                "y": {"datum": -0.83, "axis": {"title": ["H3K9me3 / DAPI", "per nucleus"], "values": [0, 0.5, 1, 1.5, 2, 2.5], "format": ".1f", "labelFontSize": 12, "titleFontSize": 15, "titleLineHeight": 13, "tickSize": 5, "titlePadding": 15}}}
            }
          ]
        }
      ]
    },
    {
      "title": {"text": "E", "offset": 19, "dx": -56},
      "width": 229,
      "height": 162,
      "encoding": {
        "x": {"field": "strain", "type": "nominal", "scale": {"domain": ["daf-2; aak(0)", "daf-2; aak(0); sid-1"], "paddingInner": 0.33, "paddingOuter": 0.17},
          "axis": {"title": null, "ticks": true, "tickSize": 4, "labelAngle": -38, "labelAlign": "right", "labelBaseline": "top", "labelFontSize": 14, "labelFontStyle": "italic", "labelFontWeight": "bold", "labelPadding": 6, "labelLimit": 250}}
      },
      "layer": [
        {
          "data": {"name": "eggE"},
          "mark": {"type": "bar", "stroke": "#000000", "strokeWidth": 1.5},
          "encoding": {
            "y": {"field": "v", "type": "quantitative", "scale": {"domain": [0, 100]},
              "axis": {"title": "% of egg laying animals", "values": [0, 20, 40, 60, 80, 100], "labelFontSize": 12, "titleFontSize": 16, "tickSize": 5, "titlePadding": 3}},
            "fill": {"field": "strain", "type": "nominal", "scale": {"domain": ["daf-2; aak(0)", "daf-2; aak(0); sid-1"], "range": ["#575757", "#d4d4d4"]}, "legend": null}
          }
        },
        {
          "data": {"name": "eggE"},
          "mark": {"type": "rule", "color": "#000000", "strokeWidth": 1.5},
          "encoding": {
            "y": {"field": "v", "type": "quantitative", "axis": {"title": "% of egg laying animals", "values": [0, 20, 40, 60, 80, 100], "labelFontSize": 12, "titleFontSize": 16, "tickSize": 5, "titlePadding": 3}},
            "y2": {"field": "hi"}
          }
        },
        {
          "data": {"name": "eggE"},
          "mark": {"type": "tick", "orient": "horizontal", "size": 40, "thickness": 1.5, "color": "#000000"},
          "encoding": {
            "y": {"field": "hi", "type": "quantitative", "axis": {"title": "% of egg laying animals", "values": [0, 20, 40, 60, 80, 100], "labelFontSize": 12, "titleFontSize": 16, "tickSize": 5, "titlePadding": 3}}
          }
        },
        {
          "data": {"values": [{}]},
          "mark": {"type": "text", "fontSize": 21, "baseline": "alphabetic", "color": "#000000"},
          "encoding": {
            "x": {"datum": "daf-2; aak(0); sid-1", "axis": {"title": null, "ticks": true, "tickSize": 4, "labelAngle": -38, "labelAlign": "right", "labelBaseline": "top", "labelFontSize": 14, "labelFontStyle": "italic", "labelFontWeight": "bold", "labelPadding": 6, "labelLimit": 250}},
            "y": {"datum": 31, "axis": {"title": "% of egg laying animals", "values": [0, 20, 40, 60, 80, 100], "labelFontSize": 12, "titleFontSize": 16, "tickSize": 5, "titlePadding": 3}},
            "text": {"value": "*"}}
        }
      ]
    }
  ]
}
